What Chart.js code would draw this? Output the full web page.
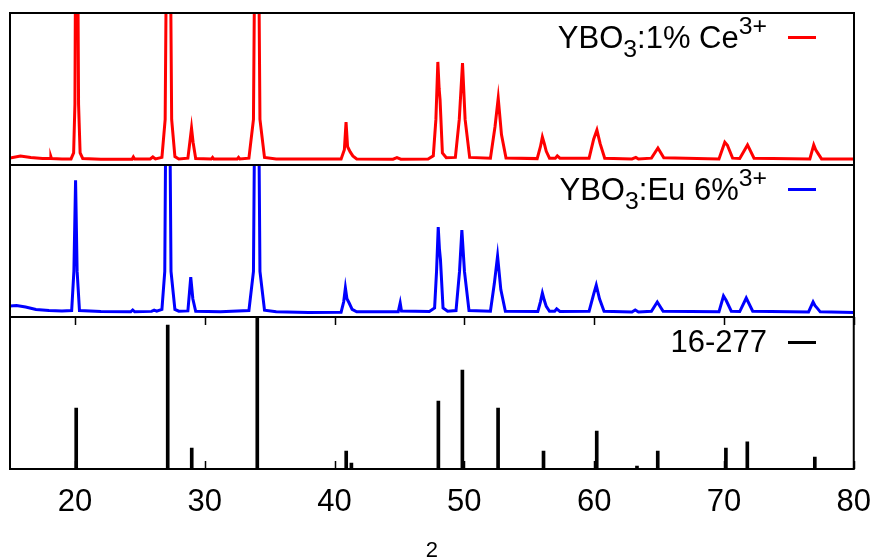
<!DOCTYPE html>
<html>
<head>
<meta charset="utf-8">
<script src="https://cdn.jsdelivr.net/npm/chart.js@4"></script>
<style>
  body { margin: 0; background: #fff; }
  #wrap { position: relative; width: 879px; height: 559px; overflow: hidden; font-family: "Liberation Sans", Arial, sans-serif; }
  canvas { position: absolute; left: 0; }
  .leg { position: absolute; right: 112px; font-size: 31px; line-height: 31px; white-space: nowrap; color: #000; }
  .sub { font-size: 0.8em; position: relative; top: 9px; }
  .sup { font-size: 0.8em; position: relative; top: -14px; }
  .key { position: absolute; left: 788px; width: 28px; height: 3px; }
</style>
</head>
<body>
<div id="wrap">
  <canvas id="p1" width="879" height="170" style="top:0px"></canvas>
  <canvas id="p2" width="879" height="162" style="top:160px"></canvas>
  <canvas id="p3" width="886" height="247" style="top:312px"></canvas>

  <div class="leg" style="top:22px">YBO<span class="sub">3</span>:1% Ce<span class="sup">3+</span></div>
  <div class="key" style="top:36px; background:#ff0000"></div>
  <div class="leg" style="top:174px">YBO<span class="sub">3</span>:Eu 6%<span class="sup">3+</span></div>
  <div class="key" style="top:188px; background:#0000ff"></div>
  <div class="leg" style="top:326px">16-277</div>
  <div class="key" style="top:341px; background:#000"></div>
</div>
<script>
// x range and tick labels (2 theta, degrees)
const xMin = 15, xMax = 80;
const tickValues = [20, 30, 40, 50, 60, 70, 80];

// YBO3:1% Ce3+ (relative intensity, panel scale 0-100, tall peaks run off the top)
const ceX = [15.0, 15.8, 16.6, 17.5, 18.1, 18.15, 18.2, 19.0, 19.7, 19.9, 20.0, 20.08, 20.18, 20.28, 20.4, 20.6,
  22.0, 24.4, 24.5, 24.6, 25.8, 26.0, 26.2, 26.7, 26.95, 27.1, 27.3, 27.45, 27.7, 28.0,
  28.7, 28.85, 28.98, 29.1, 29.3, 30.5, 30.6, 30.7, 32.5, 32.6, 32.7, 33.4, 33.75, 33.9, 34.1, 34.25, 34.6,
  35.5, 38.0, 40.5, 40.75, 40.88, 41.0, 41.2, 41.4, 41.7, 44.5, 44.8, 45.1,
  47.2, 47.6, 47.8, 47.95, 48.05, 48.12, 48.3, 48.6, 49.3, 49.6, 49.85, 50.05, 50.4,
  52.0, 52.35, 52.6, 52.85, 53.2, 55.6, 55.85, 56.0, 56.15, 56.3, 56.55, 57.0, 57.15, 57.35,
  59.6, 59.95, 60.2, 60.45, 60.8, 62.9, 63.2, 63.4, 64.4, 64.9, 65.35,
  69.6, 70.05, 70.25, 70.65, 71.2, 71.8, 72.3, 76.6, 76.9, 77.05, 77.2, 77.5, 80.0];
const ceY = [4.6, 5.9, 5.0, 4.2, 4.2, 5.5, 4.2, 3.9, 4.0, 8, 40, 200, 200, 40, 8, 4.3,
  3.8, 3.8, 5.3, 3.9, 4.0, 5.3, 4.0, 5.0, 30, 200, 200, 30, 5.5, 4.0,
  4.5, 15, 24.3, 15, 4.3, 3.9, 5.0, 3.9, 4.0, 5.0, 4.0, 4.5, 30, 200, 200, 30, 5.0,
  4.0, 3.9, 3.9, 10, 28.3, 12, 8.6, 6, 4.0, 3.8, 4.8, 3.8,
  4.0, 6, 30, 67.8, 50, 43, 8, 4.8, 5.0, 30, 67, 30, 5.0,
  4.5, 25, 44, 20, 4.6, 4.2, 12, 18.4, 14, 9, 4.5, 4.5, 6, 4.5,
  4.5, 17, 23, 14, 4.5, 4.0, 5.0, 4.0, 4.5, 11.2, 4.8,
  4.0, 15, 13, 4.5, 4.3, 13.2, 4.5, 4.0, 13.2, 10, 8, 4.0, 3.9];

// YBO3:Eu 6%3+
const euX = [15.0, 15.5, 16.2, 17.0, 18.0, 19.0, 19.75, 19.92, 20.05, 20.17, 20.35,
  22.0, 24.3, 24.45, 24.6, 25.9, 26.1, 26.3, 26.7, 26.92, 27.05, 27.25, 27.4, 27.7, 28.0,
  28.7, 28.82, 28.92, 29.08, 29.3, 31.2, 33.4, 33.75, 33.9, 34.1, 34.25, 34.6,
  35.5, 38.0, 40.5, 40.7, 40.83, 40.95, 41.12, 41.35, 41.7, 44.9, 45.05, 45.15,
  47.3, 47.7, 47.85, 47.98, 48.07, 48.15, 48.35, 48.7, 49.35, 49.62, 49.8, 50.0, 50.35,
  52.0, 52.3, 52.55, 52.8, 53.15, 55.65, 55.85, 56.0, 56.15, 56.3, 56.55, 56.95, 57.1, 57.35,
  59.6, 59.95, 60.15, 60.4, 60.75, 62.9, 63.15, 63.4, 64.4, 64.85, 65.3,
  69.6, 69.95, 70.15, 70.55, 71.2, 71.7, 72.2, 76.5, 76.85, 77.0, 77.15, 77.4, 80.0];
const euY = [7.2, 7.5, 6.6, 5.0, 4.3, 3.9, 4.2, 30, 90, 30, 4.3,
  3.6, 3.4, 4.6, 3.4, 3.7, 4.5, 3.8, 5.0, 30, 200, 200, 30, 5.0, 3.8,
  4.0, 16, 26.3, 12, 3.8, 3.4, 4.3, 30, 200, 200, 30, 4.5,
  3.4, 3.0, 3.2, 10, 19.1, 12, 9.2, 5.0, 3.4, 3.4, 9.2, 4.0,
  3.6, 6, 30, 59.2, 45, 38, 6, 3.8, 4.2, 30, 57.2, 30, 4.2,
  3.8, 22, 40.1, 18, 3.8, 3.6, 10, 15.8, 11, 7, 3.8, 3.8, 5.3, 3.6,
  3.8, 15, 21, 12, 3.8, 3.3, 4.6, 3.3, 3.8, 9.9, 3.8,
  3.4, 13.8, 11, 3.8, 3.6, 12.5, 3.8, 3.3, 9.9, 7.5, 6, 3.4, 3.0];

// reference card 16-277, stick positions and heights
const refX = [20.1, 27.15, 29.0, 34.05, 40.9, 41.3, 48.0, 49.85, 52.6, 56.1, 60.2, 63.3, 64.9, 70.15, 71.8, 77.0];
const refY = [40, 94.7, 13.8, 100, 11.8, 3.9, 44.7, 65.1, 40.1, 11.8, 25, 2, 11.8, 13.8, 17.8, 7.9];

const FONT = '"Liberation Sans", Arial, sans-serif';

function pts(xs, ys) {
  return xs.map((x, i) => ({ x: x, y: ys[i] }));
}

// box around each panel
const frame = {
  id: 'frame',
  afterDraw(chart) {
    const a = chart.chartArea, ctx = chart.ctx;
    ctx.save();
    ctx.strokeStyle = '#000';
    ctx.lineWidth = 2;
    ctx.strokeRect(a.left, a.top, a.right - a.left, a.bottom - a.top);
    ctx.restore();
  }
};

// inward tick marks on the bottom panel (top and bottom edge)
const innerTicks = {
  id: 'innerTicks',
  afterDraw(chart) {
    const a = chart.chartArea, ctx = chart.ctx, sx = chart.scales.x;
    ctx.save();
    ctx.strokeStyle = '#000';
    ctx.lineWidth = 1.5;
    sx.ticks.forEach(t => {
      const px = Math.round(sx.getPixelForValue(t.value)) + 0.5;
      ctx.beginPath();
      ctx.moveTo(px, a.bottom); ctx.lineTo(px, a.bottom - 8);
      ctx.moveTo(px, a.top); ctx.lineTo(px, a.top + 8);
      ctx.stroke();
    });
    ctx.restore();
  }
};

function hiddenX() {
  return { type: 'linear', min: xMin, max: xMax, display: false, offset: false };
}
function hiddenY() {
  return { min: 0, max: 100, display: false };
}

function linePanel(id, xs, ys, color, padTop, padBottom) {
  new Chart(document.getElementById(id), {
    type: 'line',
    data: {
      datasets: [{
        data: pts(xs, ys),
        borderColor: color,
        borderWidth: 3,
        pointRadius: 0,
        tension: 0,
        clip: 0
      }]
    },
    options: {
      responsive: false,
      animation: false,
      devicePixelRatio: 1,
      layout: { padding: { left: 10, right: 25, top: padTop, bottom: padBottom } },
      scales: { x: hiddenX(), y: hiddenY() },
      plugins: { legend: { display: false }, tooltip: { enabled: false } }
    },
    plugins: [frame]
  });
}

linePanel('p1', ceX, ceY, '#ff0000', 13, 5);
linePanel('p2', euX, euY, '#0000ff', 5, 5);

new Chart(document.getElementById('p3'), {
  type: 'bar',
  data: {
    datasets: [{
      data: pts(refX, refY),
      backgroundColor: '#000',
      borderWidth: 0,
      barThickness: 3,
      clip: 0
    }]
  },
  options: {
    responsive: false,
    animation: false,
    devicePixelRatio: 1,
    layout: { padding: { left: 10, right: 32, top: 5, bottom: 0 } },
    scales: {
      x: {
        type: 'linear', min: xMin, max: xMax, offset: false,
        grid: { display: false, drawTicks: false },
        border: { display: false },
        afterBuildTicks: (scale) => { scale.ticks = tickValues.map(v => ({ value: v })); },
        afterFit: (scale) => { scale.height = 90; },
        ticks: { color: '#000', padding: 15, maxRotation: 0, autoSkip: false, font: { family: FONT, size: 31 } },
        title: { display: true, text: '2', color: '#000', padding: { top: 0, bottom: -3 }, font: { family: FONT, size: 22, lineHeight: 1 } }
      },
      y: hiddenY()
    },
    plugins: { legend: { display: false }, tooltip: { enabled: false } }
  },
  plugins: [frame, innerTicks]
});
</script>
</body>
</html>
